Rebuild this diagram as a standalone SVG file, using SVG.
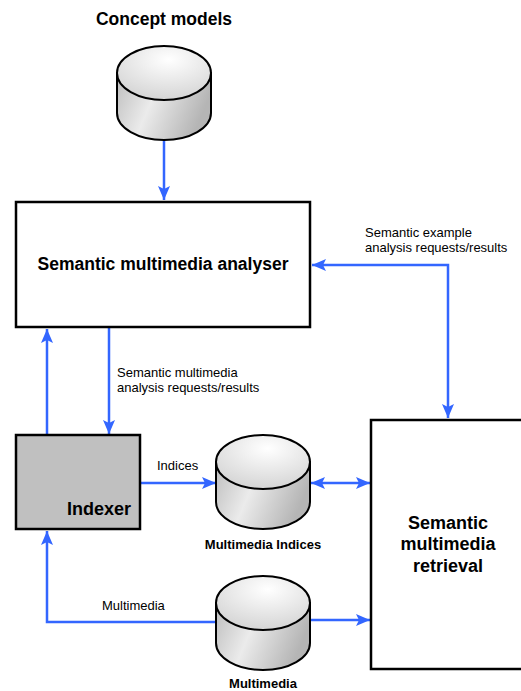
<svg xmlns="http://www.w3.org/2000/svg" width="521" height="691" viewBox="0 0 521 691">
<defs>
<linearGradient id="body" x1="0" y1="0" x2="1" y2="0.3">
<stop offset="0" stop-color="#bdbdbd"/>
<stop offset="0.45" stop-color="#ebebeb"/>
<stop offset="1" stop-color="#b5b5b5"/>
</linearGradient>
<radialGradient id="top" cx="0.55" cy="0.25" r="0.8">
<stop offset="0" stop-color="#ffffff"/>
<stop offset="1" stop-color="#d2d2d2"/>
</radialGradient>
<marker id="ah" viewBox="0 0 14 12" refX="14" refY="6" markerWidth="14" markerHeight="12" markerUnits="userSpaceOnUse" orient="auto-start-reverse">
<path d="M0,0 L14,6 L0,12 L3,6 Z" fill="#3366ff"/>
</marker>
<g id="cyl">
<path d="M0,27 L0,67 A47,27 0 0 0 94,67 L94,27 Z" fill="url(#body)" stroke="#000" stroke-width="2"/>
<ellipse cx="47" cy="27" rx="47" ry="27" fill="url(#top)" stroke="#000" stroke-width="2"/>
</g>
</defs>
<style>
.c{fill:none;stroke:#3366ff;stroke-width:2.5}
.box{fill:#fff;stroke:#000;stroke-width:2.5}
.bl{font-family:"Liberation Sans",Arial,sans-serif;font-weight:bold;fill:#000}
.lb{font-family:"Liberation Sans",Arial,sans-serif;font-size:13px;fill:#000}
</style>
<rect width="521" height="691" fill="#fff"/>
<g id="connectors">
<path class="c" d="M164,138 L164,200" marker-end="url(#ah)"/>
<path class="c" d="M448,418 L448,265 L312,265" marker-start="url(#ah)" marker-end="url(#ah)"/>
<path class="c" d="M47,435 L47,329" marker-end="url(#ah)"/>
<path class="c" d="M109,328 L109,434" marker-end="url(#ah)"/>
<path class="c" d="M141,483 L216,483" marker-end="url(#ah)"/>
<path class="c" d="M311,483 L370,483" marker-start="url(#ah)" marker-end="url(#ah)"/>
<path class="c" d="M217,622 L47,622 L47,531" marker-end="url(#ah)"/>
<path class="c" d="M310,620 L370,620" marker-end="url(#ah)"/>
<text class="lb" x="365" y="237">Semantic example</text>
<text class="lb" x="365" y="252">analysis requests/results</text>
<text class="lb" x="117" y="377">Semantic multimedia</text>
<text class="lb" x="117" y="392">analysis requests/results</text>
<text class="lb" x="157" y="470">Indices</text>
<text class="lb" x="102" y="610">Multimedia</text>
</g>
<g id="concept-models">
<text class="bl" x="164" y="25" font-size="17.5" text-anchor="middle">Concept models</text>
<use href="#cyl" x="117" y="46"/>
</g>
<g id="analyser">
<rect class="box" x="16" y="202" width="294" height="125"/>
<text class="bl" x="163" y="270" font-size="17.5" text-anchor="middle">Semantic multimedia analyser</text>
</g>
<g id="indexer">
<rect x="16" y="435" width="124" height="94" fill="#c0c0c0" stroke="#000" stroke-width="2.5"/>
<text class="bl" x="131" y="515" font-size="18" text-anchor="end">Indexer</text>
</g>
<g id="multimedia-indices">
<use href="#cyl" x="216" y="435"/>
<text class="bl" x="263" y="549" font-size="13" text-anchor="middle">Multimedia Indices</text>
</g>
<g id="multimedia">
<use href="#cyl" x="216" y="576"/>
<text class="bl" x="263" y="688" font-size="13" text-anchor="middle">Multimedia</text>
</g>
<g id="retrieval">
<rect class="box" x="371" y="420" width="160" height="249"/>
<text class="bl" x="448" y="529" font-size="18" text-anchor="middle">Semantic</text>
<text class="bl" x="448" y="550" font-size="18" text-anchor="middle">multimedia</text>
<text class="bl" x="448" y="572" font-size="18" text-anchor="middle">retrieval</text>
</g>
</svg>
